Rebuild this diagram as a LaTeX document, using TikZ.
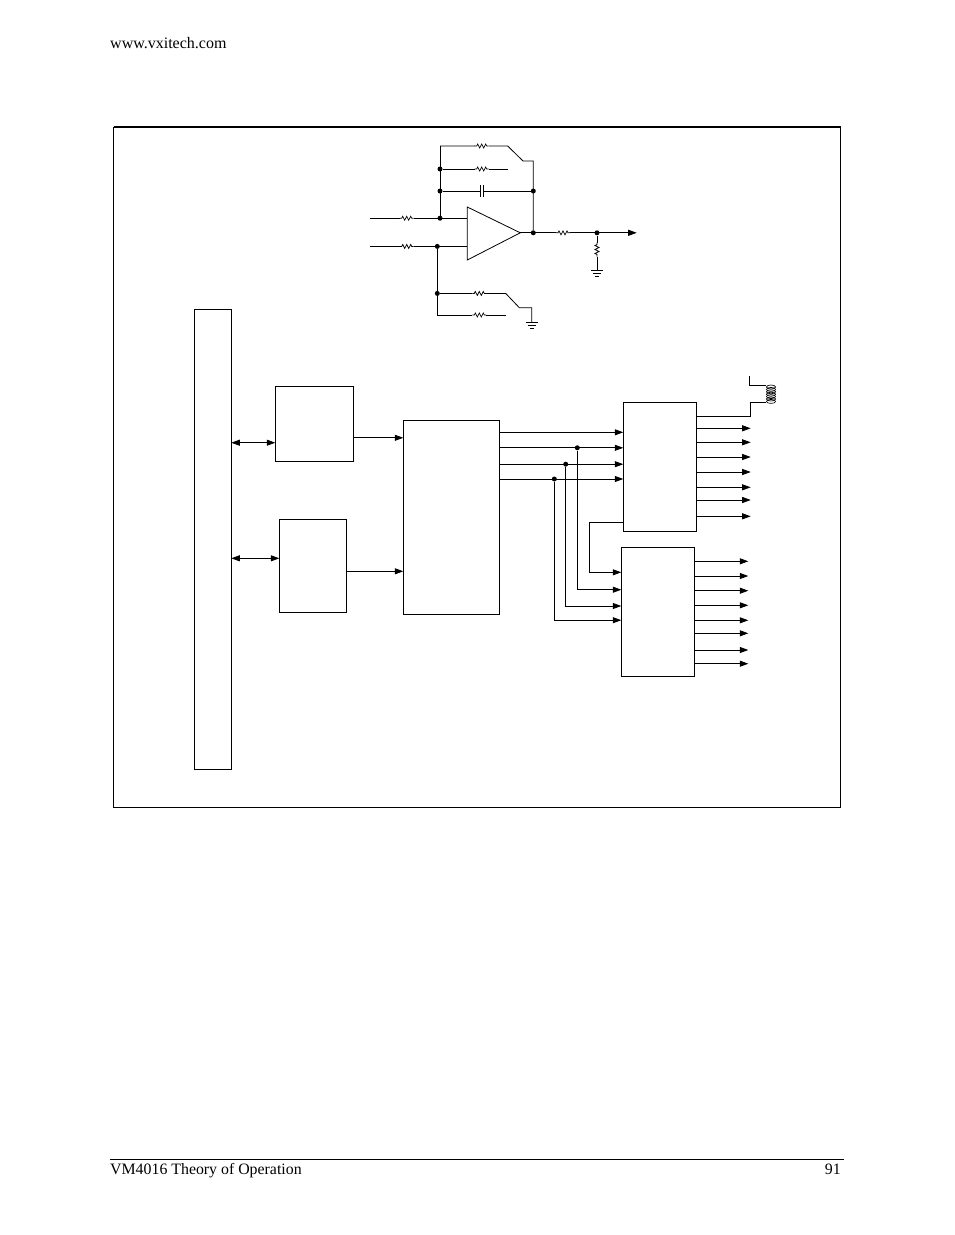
\documentclass[tikz,border=0pt]{standalone}
\usepackage{fontspec}
\setmainfont{Liberation Serif}
\usetikzlibrary{arrows.meta}
\tikzset{
  wire/.style={line width=0.8pt,black},
  arr/.style={wire,-{Triangle[length=8.5pt,width=6pt]}},
  biarr/.style={wire,{Triangle[length=8.5pt,width=6pt]}-{Triangle[length=8.5pt,width=6pt]}},
  bx/.style={draw,line width=0.9pt,inner sep=0pt,outer sep=0pt,fill=white,rectangle},
  dot/.style={circle,fill=black,draw=none,inner sep=0pt,minimum size=5pt},
  txt/.style={inner sep=0pt,font=\fontsize{16pt}{18pt}\selectfont},
  foottxt/.style={inner sep=0pt,font=\fontsize{15.85pt}{18pt}\selectfont},
  resistor/.pic={
    \draw[white,line width=1.6pt] (-7,0) -- (7,0);
    \draw[line width=0.7pt,black] (-7,0) -- (-5,0) -- (-4,-2) -- (-2,2) -- (0,-2) -- (2,2) -- (4,-2) -- (5,0) -- (7,0);
  },
  groundsym/.pic={
    \draw[line width=0.7pt] (-6,0) -- (6,0) (-4,3) -- (4,3) (-2,6) -- (2,6);
  }
}
\begin{document}
\begin{tikzpicture}[x=1pt,y=-1pt]
\useasboundingbox[fill=white] (0,0) rectangle (954,1235);
% page furniture
\node[txt,anchor=base west] (url) at (110,48) {www.vxitech.com};
\node[foottxt,anchor=base west] (foot) at (110,1174) {VM4016 Theory of Operation};
\node[foottxt,anchor=base east] (page) at (841,1174) {91};
\coordinate (rl) at (110,1158.9);
\coordinate (rr) at (844,1158.9);
\draw[line width=0.8pt] (rl) -- (rr);
% frame
\node[bx,minimum width=727pt,minimum height=680pt,anchor=north west] (frame) at (113.5,127) {};
\draw[line width=1.6pt] (frame.north west) -- (frame.north east);
% boxes
\node[bx,minimum width=37pt,minimum height=460.3pt,anchor=north west] (bus) at (194.3,309.3) {};
\node[bx,minimum width=78pt,minimum height=75pt,anchor=north west] (A) at (275.3,386.3) {};
\node[bx,minimum width=67pt,minimum height=93pt,anchor=north west] (B) at (279.3,519.3) {};
\node[bx,minimum width=96pt,minimum height=194pt,anchor=north west] (big) at (403.3,420.3) {};
\node[bx,minimum width=73pt,minimum height=128.7pt,anchor=north west] (C) at (623.3,402.3) {};
\node[bx,minimum width=73pt,minimum height=129pt,anchor=north west] (D) at (621.3,547.3) {};
% left arrows
\draw[biarr] (bus.east |- 0,442.7) -- (A.west |- 0,442.7);
\draw[biarr] (bus.east |- 0,558.3) -- (B.west |- 0,558.3);
\draw[arr] (A.east |- 0,437.8) -- (big.west |- 0,437.8);
\draw[arr] (B.east |- 0,571.3) -- (big.west |- 0,571.3);
% junctions
\node[dot] (j1) at (577.3,447.8) {};
\node[dot] (j2) at (565.7,464.2) {};
\node[dot] (j3) at (554.3,479) {};
\draw[arr] (big.east |- 0,432.3) -- (C.west |- 0,432.3);
\draw[arr] (big.east |- j1) -- (C.west |- j1);
\draw[arr] (big.east |- j2) -- (C.west |- j2);
\draw[arr] (big.east |- j3) -- (C.west |- j3);
\coordinate (cturn) at (589.7,522.3);
\draw[arr] (C.west |- cturn) -- (cturn) |- (D.west |- 0,572.3);
\draw[arr] (j1) |- (D.west |- 0,589.7);
\draw[arr] (j2) |- (D.west |- 0,606);
\draw[arr] (j3) |- (D.west |- 0,620.2);
% C outputs
\foreach \y in {428.3,442.3,457,472,487.3,500,516.3}
  \draw[arr] (C.east |- 0,\y) -- (750.7,\y);
\foreach \y in {561.3,576,590.7,605.3,620.3,633.3,650,663.7}
  \draw[arr] (D.east |- 0,\y) -- (748.3,\y);
% relay coil
\node[inner sep=0pt,minimum width=10pt,minimum height=18pt] (coil) at (771,394.2) {};
\coordinate (ctop) at (749.3,376);
\coordinate (cbot) at (750,402.8);
\draw[wire] (ctop) |- (coil.north west |- 0,385.7);
\draw[wire] (C.east |- 0,416.3) -- (750,416.3) -- (cbot) -- (coil.south west |- 0,402.8);
\foreach \y in {387,389.4,391.8,394.2,396.6,399,401.4}
  \draw[line width=0.65pt] (771,\y) ellipse [x radius=4.6pt,y radius=2pt];
% op amp
\coordinate (ampA) at (467.3,207);
\coordinate (ampB) at (467.3,260);
\coordinate (ampC) at (520.3,232.8);
\draw[line width=0.8pt] (ampA) -- (ampB) -- (ampC) -- cycle;
\node[dot] (n1) at (440,218.2) {};
\node[dot] (n2) at (440,191) {};
\node[dot] (n3) at (440,169) {};
\node[dot] (n4) at (437.3,246.4) {};
\node[dot] (n5) at (437.3,293.4) {};
\node[dot] (o1) at (533.3,232.8) {};
\node[dot] (o2) at (533.3,191) {};
\node[dot] (o3) at (597,232.8) {};
\coordinate (in1) at (370,218.2);
\coordinate (in2) at (370,246.4);
\coordinate (tl) at (440,146);
\coordinate (ts) at (507.7,146);
\coordinate (te) at (523,161);
\coordinate (tr) at (533.3,161);
\coordinate (t2) at (507.7,169);
\coordinate (bend) at (437.3,315);
\coordinate (be2) at (505.7,315);
\coordinate (bs) at (505.7,293.4);
\coordinate (be) at (519.3,307.7);
\coordinate (br) at (531.7,307.7);
\coordinate (g2) at (531.7,322.7);
\coordinate (g1) at (597,270);
\coordinate (out) at (636.7,232.8);
\draw[wire] (in1) -- (ampA |- in1);
\draw[wire] (in2) -- (ampA |- in2);
\draw[wire] (tl) -- (n1);
\draw[wire] (tl) -- (ts) -- (te) -- (tr) -- (o1);
\draw[wire] (n3) -- (t2);
\draw[wire] (n2) -- (480.4,191) (483.6,191) -- (o2);
\draw[line width=0.5pt] (480.4,185) -- (480.4,196.5);
\draw[line width=1pt] (483.6,185) -- (483.6,196.5);
\draw[wire] (n4) -- (bend) -- (be2);
\draw[wire] (n5) -- (bs) -- (be) -- (br) -- (g2);
\draw[wire] (o3) -- (g1);
\draw[arr] (ampC) -- (out);
\pic at (481.7,146) {resistor};
\pic at (481.7,169) {resistor};
\pic at (406.7,218.2) {resistor};
\pic at (406.7,246.4) {resistor};
\pic at (563,232.8) {resistor};
\pic[rotate=90] at (597,249.5) {resistor};
\pic at (479.3,293.4) {resistor};
\pic at (479.3,315) {resistor};
\pic at (g1) {groundsym};
\pic at (g2) {groundsym};
\end{tikzpicture}
\end{document}
